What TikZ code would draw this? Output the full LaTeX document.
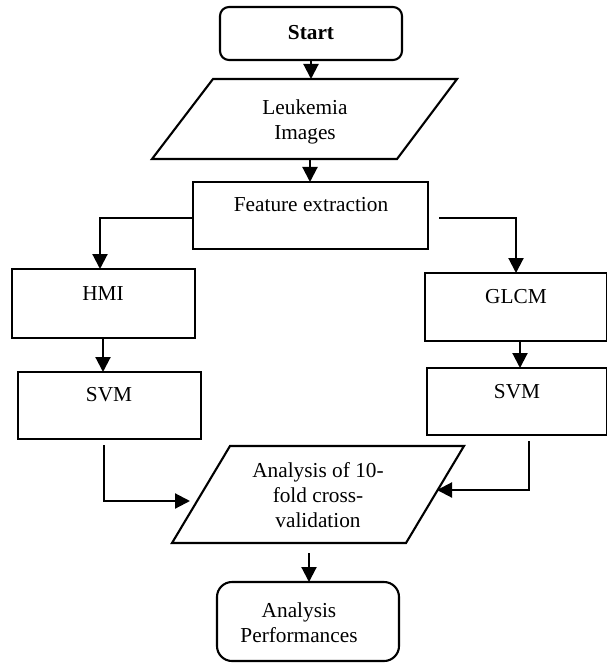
\documentclass[tikz,border=0pt]{standalone}
\usepackage{fontspec}
\setmainfont{Liberation Serif}
\usetikzlibrary{arrows.meta}
\tikzset{
  box/.style={draw, line width=2.1pt, inner sep=0pt, outer sep=0pt},
  lbl/.style={font=\fontsize{21.3}{25}\selectfont, align=center, inner sep=0pt},
  arr/.style={line width=2.1pt, -{Triangle[length=15pt,width=15pt]}},
  para/.style={line width=2.1pt, line join=miter}
}
\begin{document}
\begin{tikzpicture}[x=1pt,y=-1pt]
\useasboundingbox (0,0) rectangle (606,663);
% Start
\node[box, rounded corners=9pt, minimum width=182pt, minimum height=53pt] (start) at (311,33.5) {};
\node[lbl] (tstart) at (311,33) {\textbf{Start}};
% Leukemia parallelogram
\coordinate (l1) at (213,79); \coordinate (l2) at (457,79);
\coordinate (l3) at (397,159); \coordinate (l4) at (152,159);
\draw[para] (l1) -- (l2) -- (l3) -- (l4) -- cycle;
\node[lbl] (leuk) at (305,121.5) {Leukemia\\Images};
\coordinate (leukin) at (311,79);
\coordinate (leukout) at (310,159);
% Feature extraction
\node[box, minimum width=235pt, minimum height=67pt] (feat) at (310.5,215.5) {};
\node[lbl] (tfeat) at (311,205) {Feature extraction};
% HMI
\node[box, minimum width=183pt, minimum height=69pt] (hmi) at (103.5,303.5) {};
\node[lbl] (thmi) at (103,294) {HMI};
% GLCM
\node[box, minimum width=182pt, minimum height=68pt] (glcm) at (516,307) {};
\node[lbl] (tglcm) at (516,297) {GLCM};
% SVM left
\node[box, minimum width=183pt, minimum height=67pt] (svma) at (109.5,405.5) {};
\node[lbl] (tsvma) at (109,395) {SVM};
% SVM right
\node[box, minimum width=180pt, minimum height=67pt] (svmb) at (517,401.5) {};
\node[lbl] (tsvmb) at (517,392) {SVM};
% Analysis parallelogram
\coordinate (a1) at (230,446); \coordinate (a2) at (464,446);
\coordinate (a3) at (406,543); \coordinate (a4) at (172,543);
\draw[para] (a1) -- (a2) -- (a3) -- (a4) -- cycle;
\node[lbl] (anal) at (318,495) {Analysis of 10-\\fold cross-\\validation};
% Performances
\node[box, rounded corners=15pt, minimum width=182pt, minimum height=79pt] (perf) at (308,621.5) {};
\node[lbl] (tperf) at (299,622.5) {Analysis\\Performances};
% connector end points
\coordinate (featL) at (193,218);
\coordinate (featR) at (439,218);
\coordinate (hmiOut) at (103,338);
\coordinate (svmaIn) at (103,372);
\coordinate (glcmOut) at (520,341);
\coordinate (svmbIn) at (520,368);
\coordinate (hmiIn) at (100,269);
\coordinate (svmaOut) at (104,445);
\coordinate (svmbOut) at (529,441);
\coordinate (analInL) at (190,501);
\coordinate (analInR) at (437,490);
\coordinate (analOut) at (309,553);
% connectors
\draw[arr] (start.south -| leukin) -- (leukin);
\draw[arr] (leukout) -- (leukout |- feat.north);
\draw[arr] (featL) -| (hmiIn);
\draw[arr] (featR) -| (glcm.north);
\draw[arr] (hmiOut) -- (svmaIn);
\draw[arr] (glcmOut) -- (svmbIn);
\draw[arr] (svmaOut) |- (analInL);
\draw[arr] (svmbOut) |- (analInR);
\draw[arr] (analOut) -- (analOut |- perf.north);
\end{tikzpicture}
\end{document}
